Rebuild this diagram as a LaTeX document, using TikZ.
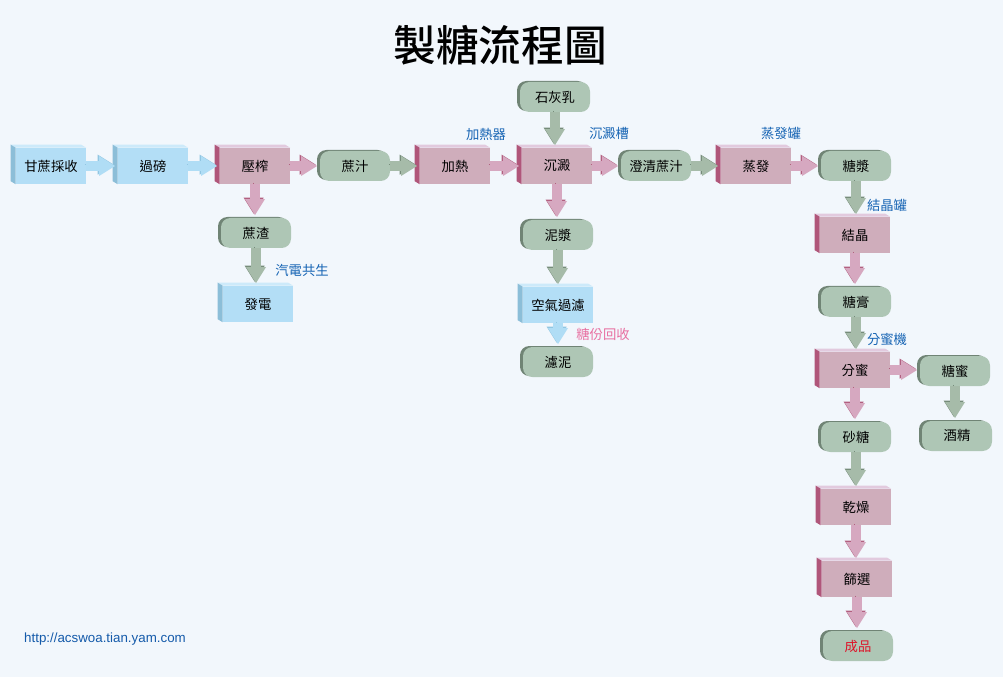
\documentclass[tikz,border=0pt]{standalone}
\usepackage{fontspec}
\usepackage{color}
\usepackage{tikz}
\usetikzlibrary{arrows.meta,shadows}
\setmainfont{Liberation Sans}
\newfontfamily\cjk{Noto Sans CJK TC}
\newfontfamily\cjkhead{Noto Sans CJK TC Medium}
\definecolor{bgc}{RGB}{242,247,252}
\definecolor{faceblue}{RGB}{179,222,246}
\definecolor{topblue}{RGB}{205,234,250}
\definecolor{sideblue}{RGB}{140,190,216}
\definecolor{facepink}{RGB}{207,173,187}
\definecolor{toppink}{RGB}{226,202,222}
\definecolor{sidepink}{RGB}{176,86,122}
\definecolor{facegreen}{RGB}{174,198,181}
\definecolor{sidegreen}{RGB}{112,132,117}
\definecolor{arrblue}{RGB}{176,221,245}
\definecolor{edgeblue}{RGB}{145,198,226}
\definecolor{arrpink}{RGB}{214,168,192}
\definecolor{edgepink}{RGB}{178,96,128}
\definecolor{arrgreen}{RGB}{166,187,169}
\definecolor{edgegreen}{RGB}{118,140,122}
\definecolor{tagblue}{RGB}{22,100,180}
\definecolor{tagpink}{RGB}{232,110,160}
\definecolor{urlblue}{RGB}{20,90,170}
\definecolor{redtext}{RGB}{222,18,40}

\begin{document}
\begin{tikzpicture}[x=0.75pt,y=-0.75pt,
 box/.style={rectangle,minimum width=52.5pt,minimum height=27pt,inner sep=0pt,font=\cjk\fontsize{10}{12}\selectfont},
 pinkbox/.style={box,fill=facepink},
 bluebox/.style={box,fill=faceblue},
 pill/.style={box,minimum height=22.5pt,rounded corners=7pt,fill=facegreen,general shadow={fill=sidegreen,shadow xshift=-2.25pt,shadow yshift=0.75pt}},
 tag/.style={font=\cjk\fontsize{10}{12}\selectfont,text=tagblue},
 flow/.style={line width=7.5pt,shorten >=2pt,-{Triangle[width=15pt,length=12pt,line width=0pt]}},
 barrow/.style={flow,draw=arrblue,preaction={draw=edgeblue,transform canvas={xshift=-1pt,yshift=1pt}}},
 parrow/.style={flow,draw=arrpink,preaction={draw=edgepink,transform canvas={xshift=-1pt,yshift=1pt}}},
 garrow/.style={flow,draw=arrgreen,preaction={draw=edgegreen,transform canvas={xshift=-1pt,yshift=1pt}}}]
\fill [bgc] (0,0) rectangle (1003,677);
\node (title) at(500,45){\cjkhead\fontsize{32}{38}\selectfont 製糖流程圖};

\node [bluebox] (harvest) at(51,166){甘蔗採收};
\node [bluebox] (weigh) at(153,166){過磅};
\node [pinkbox] (press) at(255,166){壓榨};
\node [pill] (juice) at(355,166){蔗汁};
\node [pinkbox] (heat) at(455,166){加熱};
\node [pinkbox] (settle) at(557,166){沉澱};
\node [pill] (clear) at(656,166){澄清蔗汁};
\node [pinkbox] (evap) at(756,166){蒸發};
\node [pill] (syrup) at(856,166){糖漿};

\node [pill] (bagasse) at(256,233){蔗渣};
\node [bluebox] (power) at(258,304){發電};

\node [pill] (lime) at(555,97){石灰乳};
\node [pill] (mud) at(558,235){泥漿};
\node [bluebox] (filter) at(558,305){空氣過濾};
\node [pill] (cake) at(558,362){濾泥};

\node [pinkbox] (cryst) at(855,235){結晶};
\node [pill] (massecuite) at(856,302){糖膏};
\node [pinkbox] (centri) at(855,370){分蜜};
\node [pill] (molasses) at(955,371){糖蜜};
\node [pill] (sugar) at(856,437){砂糖};
\node [pill] (alcohol) at(957,436){酒精};
\node [pinkbox] (dry) at(856,507){乾燥};
\node [pinkbox] (sieve) at(857,579){篩選};
\node [pill,text=redtext] (product) at(858,646){成品};

\foreach \n/\c in {harvest/blue,weigh/blue,power/blue,filter/blue,press/pink,heat/pink,settle/pink,evap/pink,cryst/pink,centri/pink,dry/pink,sieve/pink}{
 \fill [top\c] (\n.north west) -- ++(-5,-3) -- ([shift={(-5,-3)}]\n.north east) -- (\n.north east) -- cycle;
 \fill [side\c] (\n.north west) -- ++(-5,-3) -- ([shift={(-5,-3)}]\n.south west) -- (\n.south west) -- cycle;
}

\node [tag] (cogen) at(302,270){汽電共生};
\node [tag] (heater) at(486,134){加熱器};
\node [tag] (tank) at(609,133){沉澱槽};
\node [tag] (evaptank) at(781,133){蒸發罐};
\node [tag] (crysttank) at(887,205){結晶罐};
\node [tag] (machine) at(887,339){分蜜機};
\node [tag,text=tagpink] (recover) at(603,334){糖份回收};
\node [text=urlblue,font=\fontsize{10}{12}\selectfont] (url) at(105,639){http://acswoa.tian.yam.com};

\draw [barrow] (harvest) -- (weigh);
\draw [barrow] (weigh) -- (press);
\draw [parrow] (press) -- (juice);
\draw [garrow] (juice) -- (heat);
\draw [parrow] (heat) -- (settle);
\draw [parrow] (settle) -- (clear);
\draw [garrow] (clear) -- (evap);
\draw [parrow] (evap) -- (syrup);
\draw [parrow] (press) -- (press |- bagasse.north);
\draw [garrow] (bagasse) -- (bagasse |- power.north);
\draw [garrow] (lime) -- (lime |- settle.north);
\draw [parrow] (settle) -- (settle |- mud.north);
\draw [garrow] (mud) -- (mud |- filter.north);
\draw [barrow] (filter) -- (filter |- cake.north);
\draw [garrow] (syrup) -- (syrup |- cryst.north);
\draw [parrow] (cryst) -- (cryst |- massecuite.north);
\draw [garrow] (massecuite) -- (massecuite |- centri.north);
\draw [parrow] (centri) -- (centri -| molasses.west);
\draw [parrow] (centri) -- (centri |- sugar.north);
\draw [garrow] (molasses) -- (molasses |- alcohol.north);
\draw [garrow] (sugar) -- (sugar |- dry.north);
\draw [parrow] (dry) -- (dry |- sieve.north);
\draw [parrow] (sieve) -- (sieve |- product.north);
\end{tikzpicture}
\end{document}
